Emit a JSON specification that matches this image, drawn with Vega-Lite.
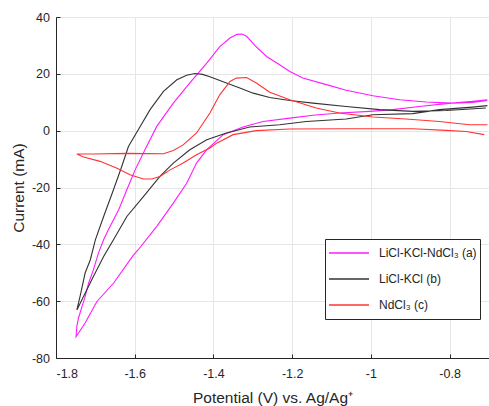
{
  "$schema": "https://vega.github.io/schema/vega-lite/v6.json",
  "width": 433,
  "height": 341,
  "autosize": {"type": "none"},
  "padding": {"left": 56, "top": 17, "right": 0, "bottom": 48},
  "background": "white",
  "config": {
    "font": "Liberation Sans",
    "view": {"stroke": null},
    "axis": {
      "grid": true,
      "gridColor": "#e6e6e6",
      "gridWidth": 1,
      "domainColor": "#262626",
      "domainWidth": 1,
      "ticks": true,
      "tickSize": -4,
      "tickColor": "#262626",
      "labelColor": "#262626",
      "labelFontSize": 12.5,
      "titleColor": "#262626",
      "titleFontSize": 15.5,
      "titleFontWeight": "normal"
    }
  },
  "data": {
    "values": [
      {"s": "LiCl-KCl-NdCl₃ (a)", "i": 0, "x": -0.704, "y": 10.9},
      {"s": "LiCl-KCl-NdCl₃ (a)", "i": 1, "x": -0.742, "y": 10.3},
      {"s": "LiCl-KCl-NdCl₃ (a)", "i": 2, "x": -0.809, "y": 9.5},
      {"s": "LiCl-KCl-NdCl₃ (a)", "i": 3, "x": -0.877, "y": 8.5},
      {"s": "LiCl-KCl-NdCl₃ (a)", "i": 4, "x": -0.944, "y": 7.4},
      {"s": "LiCl-KCl-NdCl₃ (a)", "i": 5, "x": -1.003, "y": 6.8},
      {"s": "LiCl-KCl-NdCl₃ (a)", "i": 6, "x": -1.080, "y": 6.2},
      {"s": "LiCl-KCl-NdCl₃ (a)", "i": 7, "x": -1.147, "y": 5.4},
      {"s": "LiCl-KCl-NdCl₃ (a)", "i": 8, "x": -1.206, "y": 4.4},
      {"s": "LiCl-KCl-NdCl₃ (a)", "i": 9, "x": -1.274, "y": 3.2},
      {"s": "LiCl-KCl-NdCl₃ (a)", "i": 10, "x": -1.325, "y": 1.3},
      {"s": "LiCl-KCl-NdCl₃ (a)", "i": 11, "x": -1.375, "y": -1.4},
      {"s": "LiCl-KCl-NdCl₃ (a)", "i": 12, "x": -1.417, "y": -6.7},
      {"s": "LiCl-KCl-NdCl₃ (a)", "i": 13, "x": -1.443, "y": -11.4},
      {"s": "LiCl-KCl-NdCl₃ (a)", "i": 14, "x": -1.468, "y": -18.5},
      {"s": "LiCl-KCl-NdCl₃ (a)", "i": 15, "x": -1.502, "y": -25.5},
      {"s": "LiCl-KCl-NdCl₃ (a)", "i": 16, "x": -1.544, "y": -33.7},
      {"s": "LiCl-KCl-NdCl₃ (a)", "i": 17, "x": -1.591, "y": -41.9},
      {"s": "LiCl-KCl-NdCl₃ (a)", "i": 18, "x": -1.603, "y": -43.7},
      {"s": "LiCl-KCl-NdCl₃ (a)", "i": 19, "x": -1.654, "y": -53.7},
      {"s": "LiCl-KCl-NdCl₃ (a)", "i": 20, "x": -1.696, "y": -60.1},
      {"s": "LiCl-KCl-NdCl₃ (a)", "i": 21, "x": -1.726, "y": -67.7},
      {"s": "LiCl-KCl-NdCl₃ (a)", "i": 22, "x": -1.749, "y": -72.5},
      {"s": "LiCl-KCl-NdCl₃ (a)", "i": 23, "x": -1.747, "y": -68.9},
      {"s": "LiCl-KCl-NdCl₃ (a)", "i": 24, "x": -1.743, "y": -66.0},
      {"s": "LiCl-KCl-NdCl₃ (a)", "i": 25, "x": -1.734, "y": -61.9},
      {"s": "LiCl-KCl-NdCl₃ (a)", "i": 26, "x": -1.726, "y": -58.4},
      {"s": "LiCl-KCl-NdCl₃ (a)", "i": 27, "x": -1.717, "y": -53.6},
      {"s": "LiCl-KCl-NdCl₃ (a)", "i": 28, "x": -1.705, "y": -49.0},
      {"s": "LiCl-KCl-NdCl₃ (a)", "i": 29, "x": -1.692, "y": -43.0},
      {"s": "LiCl-KCl-NdCl₃ (a)", "i": 30, "x": -1.679, "y": -38.4},
      {"s": "LiCl-KCl-NdCl₃ (a)", "i": 31, "x": -1.667, "y": -34.9},
      {"s": "LiCl-KCl-NdCl₃ (a)", "i": 32, "x": -1.641, "y": -27.9},
      {"s": "LiCl-KCl-NdCl₃ (a)", "i": 33, "x": -1.620, "y": -20.8},
      {"s": "LiCl-KCl-NdCl₃ (a)", "i": 34, "x": -1.599, "y": -13.8},
      {"s": "LiCl-KCl-NdCl₃ (a)", "i": 35, "x": -1.574, "y": -6.7},
      {"s": "LiCl-KCl-NdCl₃ (a)", "i": 36, "x": -1.544, "y": 1.5},
      {"s": "LiCl-KCl-NdCl₃ (a)", "i": 37, "x": -1.502, "y": 9.7},
      {"s": "LiCl-KCl-NdCl₃ (a)", "i": 38, "x": -1.460, "y": 16.8},
      {"s": "LiCl-KCl-NdCl₃ (a)", "i": 39, "x": -1.417, "y": 23.8},
      {"s": "LiCl-KCl-NdCl₃ (a)", "i": 40, "x": -1.384, "y": 29.6},
      {"s": "LiCl-KCl-NdCl₃ (a)", "i": 41, "x": -1.358, "y": 32.6},
      {"s": "LiCl-KCl-NdCl₃ (a)", "i": 42, "x": -1.340, "y": 33.9},
      {"s": "LiCl-KCl-NdCl₃ (a)", "i": 43, "x": -1.328, "y": 34.0},
      {"s": "LiCl-KCl-NdCl₃ (a)", "i": 44, "x": -1.316, "y": 33.2},
      {"s": "LiCl-KCl-NdCl₃ (a)", "i": 45, "x": -1.305, "y": 31.6},
      {"s": "LiCl-KCl-NdCl₃ (a)", "i": 46, "x": -1.295, "y": 30.0},
      {"s": "LiCl-KCl-NdCl₃ (a)", "i": 47, "x": -1.265, "y": 26.1},
      {"s": "LiCl-KCl-NdCl₃ (a)", "i": 48, "x": -1.232, "y": 23.2},
      {"s": "LiCl-KCl-NdCl₃ (a)", "i": 49, "x": -1.206, "y": 20.8},
      {"s": "LiCl-KCl-NdCl₃ (a)", "i": 50, "x": -1.173, "y": 18.5},
      {"s": "LiCl-KCl-NdCl₃ (a)", "i": 51, "x": -1.113, "y": 16.2},
      {"s": "LiCl-KCl-NdCl₃ (a)", "i": 52, "x": -1.063, "y": 14.2},
      {"s": "LiCl-KCl-NdCl₃ (a)", "i": 53, "x": -0.995, "y": 12.3},
      {"s": "LiCl-KCl-NdCl₃ (a)", "i": 54, "x": -0.927, "y": 10.9},
      {"s": "LiCl-KCl-NdCl₃ (a)", "i": 55, "x": -0.860, "y": 10.1},
      {"s": "LiCl-KCl-NdCl₃ (a)", "i": 56, "x": -0.792, "y": 9.7},
      {"s": "LiCl-KCl-NdCl₃ (a)", "i": 57, "x": -0.742, "y": 9.9},
      {"s": "LiCl-KCl-NdCl₃ (a)", "i": 58, "x": -0.704, "y": 10.6},

      {"s": "LiCl-KCl (b)", "i": 0, "x": -0.704, "y": 8.8},
      {"s": "LiCl-KCl (b)", "i": 1, "x": -0.742, "y": 8.3},
      {"s": "LiCl-KCl (b)", "i": 2, "x": -0.826, "y": 7.4},
      {"s": "LiCl-KCl (b)", "i": 3, "x": -0.894, "y": 6.0},
      {"s": "LiCl-KCl (b)", "i": 4, "x": -0.995, "y": 5.6},
      {"s": "LiCl-KCl (b)", "i": 5, "x": -1.063, "y": 4.1},
      {"s": "LiCl-KCl (b)", "i": 6, "x": -1.164, "y": 3.2},
      {"s": "LiCl-KCl (b)", "i": 7, "x": -1.232, "y": 2.1},
      {"s": "LiCl-KCl (b)", "i": 8, "x": -1.308, "y": 1.3},
      {"s": "LiCl-KCl (b)", "i": 9, "x": -1.367, "y": -0.8},
      {"s": "LiCl-KCl (b)", "i": 10, "x": -1.417, "y": -3.2},
      {"s": "LiCl-KCl (b)", "i": 11, "x": -1.460, "y": -6.7},
      {"s": "LiCl-KCl (b)", "i": 12, "x": -1.502, "y": -11.4},
      {"s": "LiCl-KCl (b)", "i": 13, "x": -1.536, "y": -16.1},
      {"s": "LiCl-KCl (b)", "i": 14, "x": -1.578, "y": -23.2},
      {"s": "LiCl-KCl (b)", "i": 15, "x": -1.620, "y": -30.2},
      {"s": "LiCl-KCl (b)", "i": 16, "x": -1.654, "y": -38.4},
      {"s": "LiCl-KCl (b)", "i": 17, "x": -1.679, "y": -44.3},
      {"s": "LiCl-KCl (b)", "i": 18, "x": -1.705, "y": -51.3},
      {"s": "LiCl-KCl (b)", "i": 19, "x": -1.726, "y": -57.2},
      {"s": "LiCl-KCl (b)", "i": 20, "x": -1.747, "y": -63.1},
      {"s": "LiCl-KCl (b)", "i": 21, "x": -1.738, "y": -57.8},
      {"s": "LiCl-KCl (b)", "i": 22, "x": -1.726, "y": -50.1},
      {"s": "LiCl-KCl (b)", "i": 23, "x": -1.713, "y": -45.5},
      {"s": "LiCl-KCl (b)", "i": 24, "x": -1.700, "y": -38.4},
      {"s": "LiCl-KCl (b)", "i": 25, "x": -1.679, "y": -30.2},
      {"s": "LiCl-KCl (b)", "i": 26, "x": -1.654, "y": -20.8},
      {"s": "LiCl-KCl (b)", "i": 27, "x": -1.633, "y": -12.6},
      {"s": "LiCl-KCl (b)", "i": 28, "x": -1.616, "y": -5.6},
      {"s": "LiCl-KCl (b)", "i": 29, "x": -1.591, "y": 0.3},
      {"s": "LiCl-KCl (b)", "i": 30, "x": -1.561, "y": 7.4},
      {"s": "LiCl-KCl (b)", "i": 31, "x": -1.527, "y": 13.8},
      {"s": "LiCl-KCl (b)", "i": 32, "x": -1.493, "y": 17.9},
      {"s": "LiCl-KCl (b)", "i": 33, "x": -1.468, "y": 19.5},
      {"s": "LiCl-KCl (b)", "i": 34, "x": -1.447, "y": 20.1},
      {"s": "LiCl-KCl (b)", "i": 35, "x": -1.428, "y": 19.8},
      {"s": "LiCl-KCl (b)", "i": 36, "x": -1.409, "y": 19.0},
      {"s": "LiCl-KCl (b)", "i": 37, "x": -1.367, "y": 16.8},
      {"s": "LiCl-KCl (b)", "i": 38, "x": -1.333, "y": 15.0},
      {"s": "LiCl-KCl (b)", "i": 39, "x": -1.299, "y": 13.2},
      {"s": "LiCl-KCl (b)", "i": 40, "x": -1.257, "y": 11.7},
      {"s": "LiCl-KCl (b)", "i": 41, "x": -1.206, "y": 10.6},
      {"s": "LiCl-KCl (b)", "i": 42, "x": -1.147, "y": 9.7},
      {"s": "LiCl-KCl (b)", "i": 43, "x": -1.063, "y": 8.5},
      {"s": "LiCl-KCl (b)", "i": 44, "x": -0.978, "y": 7.4},
      {"s": "LiCl-KCl (b)", "i": 45, "x": -0.894, "y": 6.8},
      {"s": "LiCl-KCl (b)", "i": 46, "x": -0.809, "y": 7.1},
      {"s": "LiCl-KCl (b)", "i": 47, "x": -0.708, "y": 8.0},

      {"s": "NdCl₃ (c)", "i": 0, "x": -0.712, "y": -1.4},
      {"s": "NdCl₃ (c)", "i": 1, "x": -0.758, "y": -0.3},
      {"s": "NdCl₃ (c)", "i": 2, "x": -0.809, "y": 0.1},
      {"s": "NdCl₃ (c)", "i": 3, "x": -0.894, "y": 0.7},
      {"s": "NdCl₃ (c)", "i": 4, "x": -1.063, "y": 0.7},
      {"s": "NdCl₃ (c)", "i": 5, "x": -1.206, "y": 0.6},
      {"s": "NdCl₃ (c)", "i": 6, "x": -1.291, "y": 0.0},
      {"s": "NdCl₃ (c)", "i": 7, "x": -1.350, "y": -1.4},
      {"s": "NdCl₃ (c)", "i": 8, "x": -1.392, "y": -4.4},
      {"s": "NdCl₃ (c)", "i": 9, "x": -1.409, "y": -6.1},
      {"s": "NdCl₃ (c)", "i": 10, "x": -1.443, "y": -8.5},
      {"s": "NdCl₃ (c)", "i": 11, "x": -1.477, "y": -11.4},
      {"s": "NdCl₃ (c)", "i": 12, "x": -1.510, "y": -13.8},
      {"s": "NdCl₃ (c)", "i": 13, "x": -1.536, "y": -16.1},
      {"s": "NdCl₃ (c)", "i": 14, "x": -1.557, "y": -17.0},
      {"s": "NdCl₃ (c)", "i": 15, "x": -1.578, "y": -17.0},
      {"s": "NdCl₃ (c)", "i": 16, "x": -1.612, "y": -15.5},
      {"s": "NdCl₃ (c)", "i": 17, "x": -1.645, "y": -13.2},
      {"s": "NdCl₃ (c)", "i": 18, "x": -1.688, "y": -10.8},
      {"s": "NdCl₃ (c)", "i": 19, "x": -1.730, "y": -9.3},
      {"s": "NdCl₃ (c)", "i": 20, "x": -1.747, "y": -8.2},
      {"s": "NdCl₃ (c)", "i": 21, "x": -1.705, "y": -8.2},
      {"s": "NdCl₃ (c)", "i": 22, "x": -1.620, "y": -8.0},
      {"s": "NdCl₃ (c)", "i": 23, "x": -1.527, "y": -8.1},
      {"s": "NdCl₃ (c)", "i": 24, "x": -1.502, "y": -7.0},
      {"s": "NdCl₃ (c)", "i": 25, "x": -1.477, "y": -5.0},
      {"s": "NdCl₃ (c)", "i": 26, "x": -1.443, "y": -0.8},
      {"s": "NdCl₃ (c)", "i": 27, "x": -1.409, "y": 6.2},
      {"s": "NdCl₃ (c)", "i": 28, "x": -1.384, "y": 12.6},
      {"s": "NdCl₃ (c)", "i": 29, "x": -1.358, "y": 17.3},
      {"s": "NdCl₃ (c)", "i": 30, "x": -1.342, "y": 18.5},
      {"s": "NdCl₃ (c)", "i": 31, "x": -1.316, "y": 18.7},
      {"s": "NdCl₃ (c)", "i": 32, "x": -1.291, "y": 16.8},
      {"s": "NdCl₃ (c)", "i": 33, "x": -1.257, "y": 13.5},
      {"s": "NdCl₃ (c)", "i": 34, "x": -1.206, "y": 10.9},
      {"s": "NdCl₃ (c)", "i": 35, "x": -1.139, "y": 8.0},
      {"s": "NdCl₃ (c)", "i": 36, "x": -1.080, "y": 6.2},
      {"s": "NdCl₃ (c)", "i": 37, "x": -0.995, "y": 4.8},
      {"s": "NdCl₃ (c)", "i": 38, "x": -0.911, "y": 4.1},
      {"s": "NdCl₃ (c)", "i": 39, "x": -0.826, "y": 3.2},
      {"s": "NdCl₃ (c)", "i": 40, "x": -0.750, "y": 2.1},
      {"s": "NdCl₃ (c)", "i": 41, "x": -0.704, "y": 2.1}
    ]
  },
  "mark": {"type": "line", "strokeWidth": 1.1, "clip": true},
  "encoding": {
    "x": {
      "field": "x",
      "type": "quantitative",
      "scale": {"domain": [-1.8, -0.7], "nice": false, "zero": false},
      "axis": {
        "title": "Potential (V) vs. Ag/Ag⁺",
        "values": [-1.8, -1.6, -1.4, -1.2, -1, -0.8],
        "labelExpr": "'' + datum.value",
        "labelPadding": 13,
        "titlePadding": 11
      }
    },
    "y": {
      "field": "y",
      "type": "quantitative",
      "scale": {"domain": [-80, 40], "nice": false, "zero": false},
      "axis": {
        "title": "Current (mA)",
        "values": [-80, -60, -40, -20, 0, 20, 40],
        "labelExpr": "'' + datum.value",
        "labelPadding": 10.5,
        "titlePadding": 5
      }
    },
    "order": {"field": "i", "type": "quantitative"},
    "color": {
      "field": "s",
      "type": "nominal",
      "scale": {
        "domain": ["LiCl-KCl-NdCl₃ (a)", "LiCl-KCl (b)", "NdCl₃ (c)"],
        "range": ["#ff1aff", "#333333", "#ff3333"]
      },
      "legend": {
        "title": null,
        "orient": "none",
        "legendX": 269,
        "legendY": 222,
        "symbolType": "stroke",
        "symbolSize": 1600,
        "symbolStrokeWidth": 1.3,
        "clipHeight": 22,
        "labelFontSize": 12,
        "labelColor": "#262626",
        "labelOffset": 9,
        "rowPadding": 4,
        "padding": 3,
        "strokeColor": "#262626",
        "fillColor": "white",
        "cornerRadius": 0
      }
    }
  }
}
